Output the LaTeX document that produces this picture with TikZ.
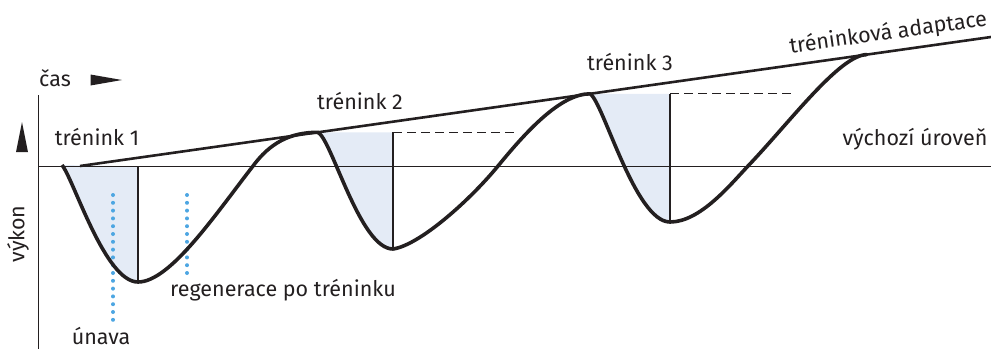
\documentclass[tikz,border=0pt]{standalone}
\usepackage{fontspec}
\setmainfont{Fira Sans}
\usetikzlibrary{calc,positioning}

\definecolor{inkblack}{HTML}{231F20}
\definecolor{fatiguefill}{HTML}{E4EBF6}
\definecolor{dotblue}{HTML}{4DA6E2}

\tikzset{
	lbl/.style={font=\fontsize{21.5}{23}\selectfont, inner sep=0pt, text=inkblack},
	perf curve/.style={line width=3.6pt, inkblack, line join=round},
	adapt line/.style={line width=2.6pt, inkblack},
	thin line/.style={line width=1.1pt, inkblack},
	dash line/.style={line width=1.1pt, inkblack, dash pattern=on 9pt off 5pt},
	dot line/.style={line width=4pt, dotblue, line cap=round, dash pattern=on 0pt off 7.8pt},
	shade area/.style={fill=fatiguefill}
}

\begin{document}
\begin{tikzpicture}[x=1pt, y=-1pt]

	\useasboundingbox (0,0) rectangle (991,349);

	% points of the curve
	\coordinate (s1) at (62,165);
	\coordinate (m1) at (138,282);
	\coordinate (c1) at (253,166);
	\coordinate (p2) at (318,132.3);
	\coordinate (m2) at (393,249);
	\coordinate (c2) at (498,166);
	\coordinate (p3) at (590,93.8);
	\coordinate (m3) at (670,222);
	\coordinate (c3) at (748,166);
	\coordinate (p4) at (867,54.6);

	% axes
	\coordinate (ax_top) at (38.5,95);
	\coordinate (ax_bot) at (38.5,349);
	\coordinate (base_l) at (38.5,166.5);
	\coordinate (base_r) at (991,166.5);
	\coordinate (ad_l) at (80,166);
	\coordinate (ad_r) at (991,37);

	% shaded fatigue regions
	\fill[shade area] (s1) .. controls (74,180) and (105,282) .. (m1) -- (m1 |- base_l) -- cycle;
	\fill[shade area] (p2) .. controls (332,140) and (360,249) .. (m2) -- (m2 |- p2) -- cycle;
	\fill[shade area] (p3) .. controls (603,101) and (635,222) .. (m3) -- (m3 |- p3) -- cycle;

	\draw[thin line] (ax_top) -- (ax_bot);
	\draw[thin line] (base_l) -- (base_r);

	\draw[thin line] (m1 |- base_l) -- (m1);
	\draw[thin line] (m2 |- p2) -- (m2);
	\draw[thin line] (m3 |- p3) -- (m3);

	\coordinate (d2) at (515,132.3);
	\coordinate (d3) at (792,93.8);
	\draw[dash line] (m2 |- p2) -- (d2);
	\draw[dash line] (m3 |- p3) -- (d3);

	% dotted markers
	\coordinate (f_top) at (113,195);
	\coordinate (f_bot) at (113,322);
	\coordinate (r_top) at (187,195);
	\coordinate (r_bot) at (187,275);
	\draw[dot line] (f_top) -- (f_bot);
	\draw[dot line] (r_top) -- (r_bot);

	\draw[adapt line] (ad_l) -- (ad_r) node[lbl, pos=0.89, sloped, above=6pt] (adapt) {tréninková adaptace};

	\draw[perf curve] (s1) .. controls (74,180) and (105,282) .. (m1)
		.. controls (170,282) and (215,215) .. (c1)
		.. controls (270,143) and (290,132.3) .. (p2)
		.. controls (332,140) and (360,249) .. (m2)
		.. controls (420,245) and (470,200) .. (c2)
		.. controls (525,133) and (560,93.8) .. (p3)
		.. controls (603,101) and (635,222) .. (m3)
		.. controls (700,222) and (730,185) .. (c3)
		.. controls (790,122) and (840,54.6) .. (p4);

	% axis arrows
	\fill[inkblack] (90.5,74.5) -- (90.5,85.5) -- (122,80) -- cycle;
	\fill[inkblack] (16,152) -- (28,152) -- (22,122) -- cycle;

	% labels
	\node[lbl] (cas) at (55,78) {čas};
	\node[lbl, rotate=90] (vykon) at (18,234) {výkon};
	\node[lbl] (tr1) at (97,137) {trénink 1};
	\node[lbl] (tr2) at (360,101) {trénink 2};
	\node[lbl] (tr3) at (630,62) {trénink 3};
	\node[lbl] (base) at (915,139) {výchozí úroveň};
	\node[lbl] (regen) at (283,290) {regenerace po tréninku};
	\node[lbl] (fatigue) at (101,336) {únava};

\end{tikzpicture}
\end{document}
